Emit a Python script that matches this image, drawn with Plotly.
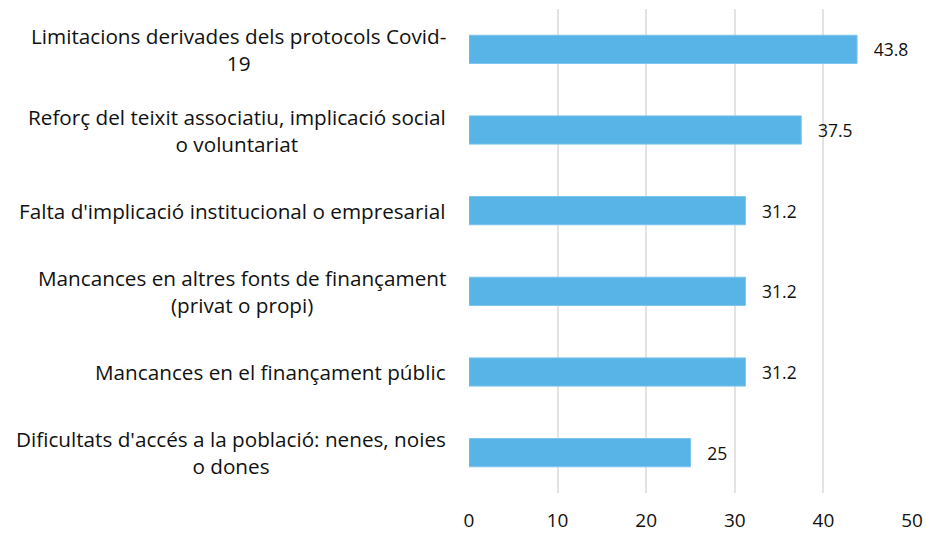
import plotly.graph_objects as go

categories = [
    "Limitacions derivades dels protocols Covid-<br>19",
    "Reforç del teixit associatiu, implicació social<br>o voluntariat",
    "Falta d'implicació institucional o empresarial",
    "Mancances en altres fonts de finançament<br>(privat o propi)",
    "Mancances en el finançament públic",
    "Dificultats d'accés a la població: nenes, noies<br>o dones",
]
values = [43.8, 37.5, 31.2, 31.2, 31.2, 25]
value_labels = ["43.8", "37.5", "31.2", "31.2", "31.2", "25"]
x_ticks = [0, 10, 20, 30, 40, 50]

FONT = "Open Sans"
BAR_COLOR = "#58B3E7"

fig = go.Figure(go.Bar(
    x=values,
    y=categories,
    orientation="h",
    width=0.35,
    marker=dict(color=BAR_COLOR, line=dict(color="#7CC4EE", width=1)),
    text=["   " + t for t in value_labels],
    textposition="outside",
    textfont=dict(family=FONT, size=17.5, color="#111111"),
    cliponaxis=False,
))

# category labels as centred multi-line annotations
for cat in categories:
    fig.add_annotation(
        x=0, xref="paper", y=cat, yref="y",
        text=cat, showarrow=False,
        xanchor="right", yanchor="middle", align="center",
        xshift=-21,
        font=dict(family=FONT, size=20.7, color="#111111"),
    )

fig.update_layout(
    width=927, height=535,
    margin=dict(l=469, r=15, t=9, b=42),
    paper_bgcolor="white", plot_bgcolor="white",
    showlegend=False,
)
fig.update_xaxes(
    range=[0, 50], tickvals=x_ticks, automargin=False,
    showgrid=True, gridcolor="#E3E3E3", gridwidth=1.5,
    zeroline=False, showline=False, ticks="",
    tickfont=dict(family=FONT, size=19, color="#111111"),
    ticklabelstandoff=14,
)
fig.update_yaxes(
    autorange="reversed", showticklabels=False, automargin=False,
    showgrid=False, zeroline=False, showline=False, ticks="",
)

# drop the page's default body margin so the figure fills the window exactly
fig.write_html(
    "out.html",
    config={"displayModeBar": False},
    post_script="document.body.style.margin='0';",
)
